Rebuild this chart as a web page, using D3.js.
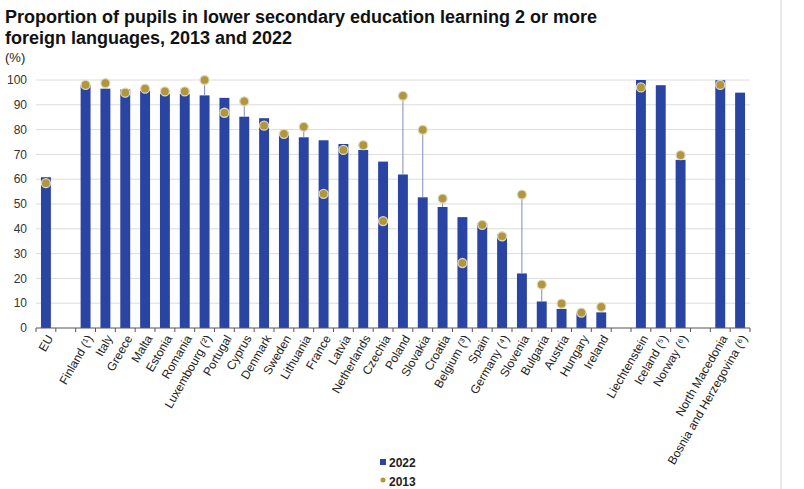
<!DOCTYPE html>
<html>
<head>
<meta charset="utf-8">
<script src="https://cdn.jsdelivr.net/npm/d3@7"></script>
<style>
  body { margin: 0; background: #fff; }
  svg { font-family: 'Liberation Sans', Arial, sans-serif; display: block; }
</style>
</head>
<body>
<svg id="chart" width="804" height="489"></svg>
<script>
// empty strings are the gaps between groups of countries
const countries = ['EU', '', 'Finland (¹)', 'Italy', 'Greece', 'Malta', 'Estonia', 'Romania',
  'Luxembourg (²)', 'Portugal', 'Cyprus', 'Denmark', 'Sweden', 'Lithuania', 'France', 'Latvia',
  'Netherlands', 'Czechia', 'Poland', 'Slovakia', 'Croatia', 'Belgium (³)', 'Spain', 'Germany (⁴)',
  'Slovenia', 'Bulgaria', 'Austria', 'Hungary', 'Ireland', '', 'Liechtenstein', 'Iceland (⁵)',
  'Norway (⁶)', '', 'North Macedonia', 'Bosnia and Herzegovina (⁶)'];

const values2022 = [60.8, null, 97.9, 96.5, 96.2, 95.6, 94.4, 94.4, 93.8, 92.8, 85.2, 84.6, 78.9,
  76.9, 75.7, 74.2, 71.8, 67.1, 61.9, 52.7, 48.8, 44.7, 42.2, 37.9, 22.0, 10.7, 7.7, 6.0, 6.3,
  null, 100, 97.9, 67.8, null, 99.9, 94.9];

const values2013 = [58.4, null, 98.0, 98.7, 94.9, 96.5, 95.4, 95.4, 100, 86.8, 91.4, 81.6, 78.3,
  81.1, 54.1, 71.8, 73.7, 43.1, 93.6, 79.9, 52.2, 26.2, 41.6, 37.0, 53.8, 17.5, 9.8, 6.2, 8.5,
  null, 97.0, null, 69.7, null, 98.0, null];

const yTicks = [0, 10, 20, 30, 40, 50, 60, 70, 80, 90, 100];
const seriesNames = ['2022', '2013'];

const barColor = '#2a44a3';
const dotColor = '#b1963b';

const svg = d3.select('#chart');
const margin = { left: 36, right: 54, top: 80, bottom: 161 };
const width = 804;
const height = 489;

const rows = countries.map((name, i) => ({
  key: name || `gap${i}`,
  name,
  v22: values2022[i],
  v13: values2013[i]
}));

const x = d3
  .scaleBand()
  .domain(rows.map(d => d.key))
  .range([margin.left, width - margin.right])
  .paddingInner(0.5)
  .paddingOuter(0.25);

const y = d3
  .scaleLinear()
  .domain([0, 100])
  .range([height - margin.bottom, margin.top]);

// right frame line
svg.append('line')
  .attr('x1', 781).attr('x2', 781)
  .attr('y1', 0).attr('y2', height)
  .attr('stroke', '#d4d4d4');

// title
const title = svg.append('text')
  .attr('x', 5)
  .attr('font-size', 18)
  .attr('font-weight', 'bold')
  .attr('fill', '#111');
title.append('tspan').attr('x', 5).attr('y', 23)
  .text('Proportion of pupils in lower secondary education learning 2 or more');
title.append('tspan').attr('x', 5).attr('y', 44)
  .text('foreign languages, 2013 and 2022');

svg.append('text')
  .attr('x', 5).attr('y', 62)
  .attr('font-size', 13)
  .attr('fill', '#222')
  .text('(%)');

// gridlines + y labels
const yAxis = svg.append('g');
yAxis.selectAll('line')
  .data(yTicks.filter(t => t > 0))
  .join('line')
  .attr('x1', margin.left)
  .attr('x2', width - margin.right)
  .attr('y1', d => y(d))
  .attr('y2', d => y(d))
  .attr('stroke', '#dcdcdc');

yAxis.selectAll('text')
  .data(yTicks)
  .join('text')
  .attr('x', 27)
  .attr('y', d => y(d))
  .attr('dy', '0.35em')
  .attr('text-anchor', 'end')
  .attr('font-size', 12)
  .attr('fill', '#333')
  .text(d => d);

// bars
svg.append('g')
  .selectAll('rect')
  .data(rows.filter(d => d.v22 != null))
  .join('rect')
  .attr('x', d => x(d.key))
  .attr('width', x.bandwidth())
  .attr('y', d => y(d.v22))
  .attr('height', d => y(0) - y(d.v22))
  .attr('fill', barColor);

// connector from bar top up to 2013 dot
svg.append('g')
  .selectAll('line')
  .data(rows.filter(d => d.v22 != null && d.v13 != null && d.v13 > d.v22))
  .join('line')
  .attr('x1', d => x(d.key) + x.bandwidth() / 2)
  .attr('x2', d => x(d.key) + x.bandwidth() / 2)
  .attr('y1', d => y(d.v13))
  .attr('y2', d => y(d.v22))
  .attr('stroke', '#7f8fb9')
  .attr('stroke-width', 1);

// x axis line and ticks at slot boundaries
const step = x.step();
const x0 = margin.left;
const axis = svg.append('g');
axis.append('line')
  .attr('x1', margin.left)
  .attr('x2', width - margin.right)
  .attr('y1', y(0))
  .attr('y2', y(0))
  .attr('stroke', '#555');
axis.selectAll('.tick')
  .data(d3.range(rows.length + 1))
  .join('line')
  .attr('class', 'tick')
  .attr('x1', i => x0 + i * step)
  .attr('x2', i => x0 + i * step)
  .attr('y1', y(0))
  .attr('y2', y(0) + 4)
  .attr('stroke', '#555');

// 2013 dots
svg.append('g')
  .selectAll('circle')
  .data(rows.filter(d => d.v13 != null))
  .join('circle')
  .attr('cx', d => x(d.key) + x.bandwidth() / 2)
  .attr('cy', d => y(d.v13))
  .attr('r', 4.5)
  .attr('fill', dotColor)
  .attr('stroke', '#dcd6bd')
  .attr('stroke-width', 1.3);

// category labels
svg.append('g')
  .selectAll('text')
  .data(rows.filter(d => d.name))
  .join('text')
  .attr('transform', d => `translate(${x(d.key) + x.bandwidth() / 2 + 4}, ${y(0) + 8}) rotate(-60)`)
  .attr('dy', '0.35em')
  .attr('text-anchor', 'end')
  .attr('font-size', 12)
  .attr('fill', '#222')
  .text(d => d.name);

// legend
const legend = svg.append('g');
legend.append('rect')
  .attr('x', 380).attr('y', 459)
  .attr('width', 6).attr('height', 6)
  .attr('fill', barColor);
legend.append('circle')
  .attr('cx', 383).attr('cy', 480)
  .attr('r', 2.5)
  .attr('fill', dotColor);
legend.selectAll('text')
  .data(seriesNames)
  .join('text')
  .attr('x', 389)
  .attr('y', (d, i) => 467 + i * 19)
  .attr('font-size', 12)
  .attr('font-weight', 'bold')
  .attr('fill', '#222')
  .text(d => d);
</script>
</body>
</html>
